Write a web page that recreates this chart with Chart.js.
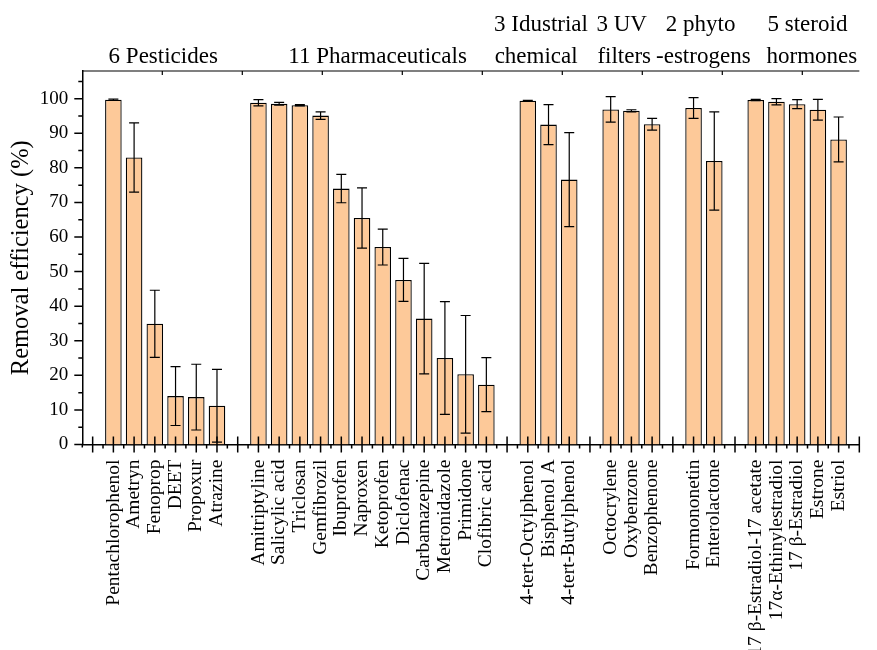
<!DOCTYPE html>
<html>
<head>
<meta charset="utf-8">
<script src="https://cdn.jsdelivr.net/npm/chart.js@4.4.0/dist/chart.umd.min.js"></script>
<style>
  html, body { margin: 0; padding: 0; background: #fff; }
  #wrap { width: 877px; height: 650px; }
</style>
</head>
<body>
<div id="wrap"><canvas id="chart"></canvas></div>
<script>
// categories on the x axis, '' = empty slot between groups
const categories = ['', 'Pentachlorophenol', 'Ametryn', 'Fenoprop', 'DEET', 'Propoxur', 'Atrazine', '',
  'Amitriptyline', 'Salicylic acid', 'Triclosan', 'Gemfibrozil', 'Ibuprofen', 'Naproxen', 'Ketoprofen',
  'Diclofenac', 'Carbamazepine', 'Metronidazole', 'Primidone', 'Clofibric acid', '',
  '4-tert-Octylphenol', 'Bisphenol A', '4-tert-Butylphenol', '',
  'Octocrylene', 'Oxybenzone', 'Benzophenone', '',
  'Formononetin', 'Enterolactone', '',
  '17 β-Estradiol-17 acetate', '17α-Ethinylestradiol', '17 β-Estradiol', 'Estrone', 'Estriol'];

// removal efficiency (%)
const removal = [null, 99.7, 83.0, 34.9, 14.0, 13.7, 11.2, null,
  98.8, 98.5, 98.1, 95.1, 74.0, 65.5, 57.1, 47.6, 36.4, 25.0, 20.3, 17.3, null,
  99.4, 92.5, 76.6, null,
  96.9, 96.5, 92.6, null,
  97.3, 82.0, null,
  99.6, 99.1, 98.4, 96.8, 88.2];

// standard deviation (error bars)
const errors = [null, 0.2, 10.0, 9.7, 8.5, 9.5, 10.5, null,
  0.9, 0.4, 0.2, 1.1, 4.1, 8.7, 5.2, 6.2, 16.0, 16.3, 17.0, 7.8, null,
  0.1, 5.8, 13.6, null,
  3.7, 0.3, 1.7, null,
  3.0, 14.2, null,
  0.2, 0.9, 1.3, 3.0, 6.5];

const yTicks = [0, 10, 20, 30, 40, 50, 60, 70, 80, 90, 100];

const groupTitles = [['6 Pesticides'], ['11 Pharmaceuticals'], ['3 Idustrial', 'chemical'],
  ['3 UV', 'filters'], ['2 phyto', '-estrogens'], ['5 steroid', 'hormones']];

const serif = "'Liberation Serif', 'Times New Roman', serif";

const points = [];
const pointErr = [];
categories.forEach((c, i) => {
  if (removal[i] !== null) {
    points.push({ x: i, y: removal[i] });
    pointErr.push(errors[i]);
  }
});

// error bars drawn from the y scale
const errorBars = {
  id: 'errorBars',
  afterDatasetsDraw(chart) {
    const ctx = chart.ctx;
    const y = chart.scales.y;
    const meta = chart.getDatasetMeta(0);
    ctx.save();
    ctx.strokeStyle = '#000';
    ctx.lineWidth = 1.2;
    meta.data.forEach((bar, k) => {
      const v = points[k].y, e = pointErr[k];
      const top = y.getPixelForValue(v + e);
      const bot = y.getPixelForValue(v - e);
      const cap = 5;
      ctx.beginPath();
      ctx.moveTo(bar.x, top); ctx.lineTo(bar.x, bot);
      ctx.moveTo(bar.x - cap, top); ctx.lineTo(bar.x + cap, top);
      ctx.moveTo(bar.x - cap, bot); ctx.lineTo(bar.x + cap, bot);
      ctx.stroke();
    });
    ctx.restore();
  }
};

// tick marks like the origin style axes (crossing majors, minor ticks, top frame)
const axisTicks = {
  id: 'axisTicks',
  afterDatasetsDraw(chart) {
    const { ctx, chartArea: a, scales: { x, y } } = chart;
    ctx.save();
    ctx.strokeStyle = '#000';
    ctx.lineWidth = 1.5;
    ctx.beginPath();
    for (let i = 0; i <= categories.length; i++) {
      const px = x.getPixelForValue(i);
      if (px > a.right + 0.5) break;
      ctx.moveTo(px, a.bottom - 8); ctx.lineTo(px, a.bottom + 8);
      const pm = x.getPixelForValue(i + 0.5);
      if (pm <= a.right) { ctx.moveTo(pm, a.bottom); ctx.lineTo(pm, a.bottom + 4); }
    }
    yTicks.forEach(v => {
      const py = y.getPixelForValue(v);
      ctx.moveTo(a.left - 8, py); ctx.lineTo(a.left, py);
      const pm = y.getPixelForValue(v + 5);
      if (pm >= a.top) { ctx.moveTo(a.left - 4, pm); ctx.lineTo(a.left, pm); }
    });
    ctx.moveTo(a.left, a.bottom); ctx.lineTo(a.left, a.bottom + 3);
    ctx.stroke();
    // top frame
    ctx.beginPath();
    ctx.lineWidth = 1.2;
    ctx.moveTo(a.left, a.top); ctx.lineTo(a.right, a.top);
    for (let px = a.left + 80; px < a.right; px += 80) {
      ctx.moveTo(px, a.top); ctx.lineTo(px, a.top + 4);
    }
    ctx.stroke();
    ctx.restore();
  }
};

// group headings above the plot
const groupLabels = {
  id: 'groupLabels',
  afterDraw(chart) {
    const { ctx, scales: { x } } = chart;
    // left edge of each line, in x-scale units
    const anchors = [[0.77], [9.44], [19.37, 19.4], [24.31, 24.36], [27.66, 27.19], [32.57, 32.52]];
    ctx.save();
    ctx.fillStyle = '#000';
    ctx.font = '23px ' + serif;
    ctx.textAlign = 'left';
    ctx.textBaseline = 'alphabetic';
    groupTitles.forEach((lines, g) => {
      lines.forEach((t, l) => {
        const base = lines.length === 1 ? 63 : (l === 0 ? 31 : 63);
        ctx.fillText(t, x.getPixelForValue(anchors[g][l]), base);
      });
    });
    ctx.restore();
  }
};

new Chart(document.getElementById('chart'), {
  type: 'bar',
  data: {
    datasets: [{
      data: points,
      backgroundColor: '#FDC999',
      borderColor: '#000',
      borderWidth: 1.3,
      barPercentage: 0.8,
      categoryPercentage: 1.0
    }]
  },
  options: {
    responsive: true,
    maintainAspectRatio: false,
    animation: false,
    devicePixelRatio: 1,
    layout: { padding: { top: 71, right: 0, bottom: 0, left: 0 } },
    plugins: { legend: { display: false }, tooltip: { enabled: false } },
    scales: {
      x: {
        type: 'linear',
        min: -0.5,
        max: 37,
        offset: false,
        grid: { display: false, drawTicks: false, offset: false },
        border: { display: true, color: '#000', width: 1.5 },
        afterBuildTicks: s => { s.ticks = categories.map((c, i) => ({ value: i })); },
        afterFit: s => { s.height = 205.5; },
        ticks: {
          autoSkip: false,
          minRotation: 90,
          maxRotation: 90,
          padding: 15,
          color: '#000',
          font: { family: serif, size: 19.5 },
          callback: v => categories[v] || ''
        }
      },
      y: {
        min: 0,
        max: 108,
        grid: { display: false, drawTicks: false },
        border: { display: true, color: '#000', width: 1.5 },
        afterBuildTicks: s => { s.ticks = yTicks.map(v => ({ value: v })); },
        afterFit: s => { s.width = 82.3; },
        ticks: {
          padding: 14,
          color: '#000',
          font: { family: serif, size: 19 }
        },
        title: {
          display: true,
          text: 'Removal efficiency (%)',
          color: '#000',
          font: { family: serif, size: 24.5 },
          padding: { top: 7, bottom: 0 }
        }
      }
    }
  },
  plugins: [errorBars, axisTicks, groupLabels]
});
</script>
</body>
</html>
